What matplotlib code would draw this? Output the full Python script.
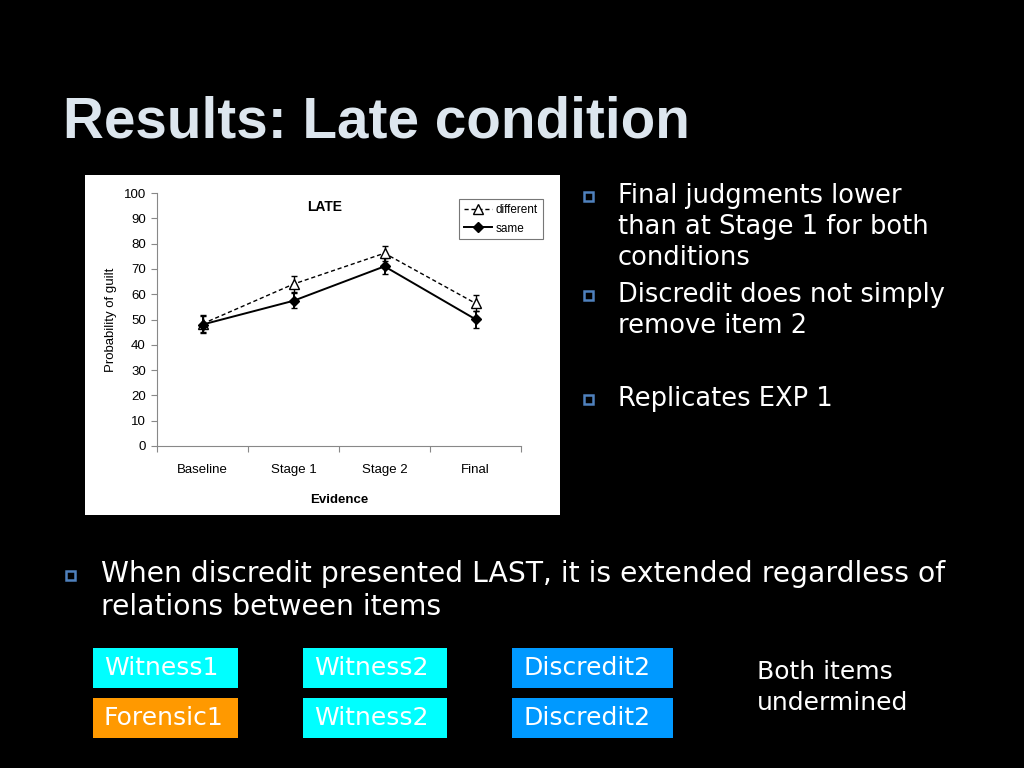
import matplotlib.pyplot as plt
from matplotlib.patches import Rectangle

# chart data
stages = ["Baseline", "Stage 1", "Stage 2", "Final"]
different = [48.3, 64.0, 76.2, 56.4]
different_err = [3.3, 3.0, 3.0, 3.2]
same = [48.0, 57.4, 71.0, 50.1]
same_err = [3.3, 3.0, 3.2, 3.4]

# slide text
slide_title = "Results: Late condition"
side_bullets = [
    ["Final judgments lower", "than at Stage 1 for both", "conditions"],
    ["Discredit does not simply", "remove item 2"],
    ["Replicates EXP 1"],
]
bottom_bullet = ["When discredit presented LAST, it is extended regardless of",
                 "relations between items"]
row1 = ["Witness1", "Witness2", "Discredit2"]
row2 = ["Forensic1", "Witness2", "Discredit2"]
row1_colors = ["#00ffff", "#00ffff", "#0099ff"]
row2_colors = ["#ff9900", "#00ffff", "#0099ff"]
note = ["Both items", "undermined"]

W, H = 1024, 768
fig = plt.figure(figsize=(10.24, 7.68), dpi=100, facecolor="black")


def fx(x):
    return x / W


def fy(y):
    return 1 - y / H


# slide title
fig.text(fx(63), fy(122), slide_title, color="#dde6ee", fontsize=40.8,
         fontweight="bold", family="Liberation Sans", va="center", ha="left")

# white panel behind chart
fig.patches.append(Rectangle((fx(85), fy(515)), 475 / W, 340 / H,
                             transform=fig.transFigure, facecolor="white",
                             edgecolor="none", zorder=-5))

cf = "Liberation Sans"
ax = fig.add_axes([fx(157), fy(446), (521 - 157) / W, (446 - 193) / H])
ax.set_zorder(2)
ax.set_facecolor("white")
x = list(range(len(stages)))
c1 = ax.errorbar(x, different, yerr=different_err, color="black", lw=1,
                 ls=(0, (3, 2)), marker="^", mfc="white", mec="black", ms=6.5,
                 capsize=2.5, elinewidth=1, label="different")
c2 = ax.errorbar(x, same, yerr=same_err, color="black", lw=1.4, marker="D",
                 ms=5, capsize=2.5, elinewidth=1.4, label="same")
ax.set_xlim(-0.5, 3.5)
ax.set_ylim(0, 100)
ax.set_xticks([i - 0.5 for i in range(5)])
ax.set_xticklabels([])
ax.set_xticks(x, minor=True)
ax.set_xticklabels(stages, minor=True, family=cf, fontsize=9.5)
ax.set_yticks(range(0, 101, 10))
ax.set_yticklabels([str(v) for v in range(0, 101, 10)], family=cf,
                   fontsize=9.5)
ax.tick_params(axis="x", which="minor", length=0, pad=13)
ax.tick_params(axis="x", which="major", length=4, color="#888888")
ax.tick_params(axis="y", length=4, color="#888888", pad=4)
for s in ["top", "right"]:
    ax.spines[s].set_visible(False)
for s in ["left", "bottom"]:
    ax.spines[s].set_color("#888888")
ax.set_ylabel("Probability of guilt", fontsize=9.5, family=cf, labelpad=5)
ax.set_xlabel("Evidence", fontsize=9.5, fontweight="bold", family=cf,
              labelpad=13)
ax.text(0.46, 0.972, "LATE", transform=ax.transAxes, fontsize=10,
        fontweight="bold", family=cf, ha="center", va="top")
leg = ax.legend([c1.lines[0], c2.lines[0]], ["different", "same"],
                loc="upper right", bbox_to_anchor=(1.06, 0.975),
                prop={"family": cf, "size": 8.5},
                frameon=True, fancybox=False, edgecolor="#555555",
                handlelength=2.4, borderpad=0.4, labelspacing=0.55,
                handletextpad=0.3, borderaxespad=0)
leg.get_frame().set_linewidth(0.8)

# bullets on the right
bullet_color = "#4f81bd"
y = 196
for lines in side_bullets:
    fig.patches.append(Rectangle((fx(584), fy(y + 5)), 9 / W, 9 / H,
                                 transform=fig.transFigure, facecolor="none",
                                 edgecolor=bullet_color, lw=1.8))
    for line in lines:
        fig.text(fx(618), fy(y), line, color="white", fontsize=18.5,
                 family="DejaVu Sans", va="center", ha="left")
        y += 31
    if lines is side_bullets[1]:
        y += 42
    else:
        y += 6

# bottom bullet
fig.patches.append(Rectangle((fx(66), fy(580)), 9 / W, 9 / H,
                             transform=fig.transFigure, facecolor="none",
                             edgecolor=bullet_color, lw=1.8))
for i, line in enumerate(bottom_bullet):
    fig.text(fx(101), fy(574 + i * 33), line, color="white", fontsize=20.3,
             family="DejaVu Sans", va="center", ha="left")

# coloured boxes
xs = [(93, 238), (303, 447), (512, 673)]
for row, colors, (y0, y1) in [(row1, row1_colors, (648, 688)),
                              (row2, row2_colors, (698, 738))]:
    for label, c, (x0, x1) in zip(row, colors, xs):
        fig.patches.append(Rectangle((fx(x0), fy(y1)), (x1 - x0) / W,
                                     (y1 - y0) / H, transform=fig.transFigure,
                                     facecolor=c, edgecolor="none"))
        fig.text(fx(x0 + 11), fy((y0 + y1) / 2), label, color="white",
                 fontsize=18, family="DejaVu Sans", va="center", ha="left")

for i, line in enumerate(note):
    fig.text(fx(757), fy(672 + i * 31), line, color="white", fontsize=18,
             family="DejaVu Sans", va="center", ha="left")

fig.savefig("out.png", dpi=100, facecolor="black")
